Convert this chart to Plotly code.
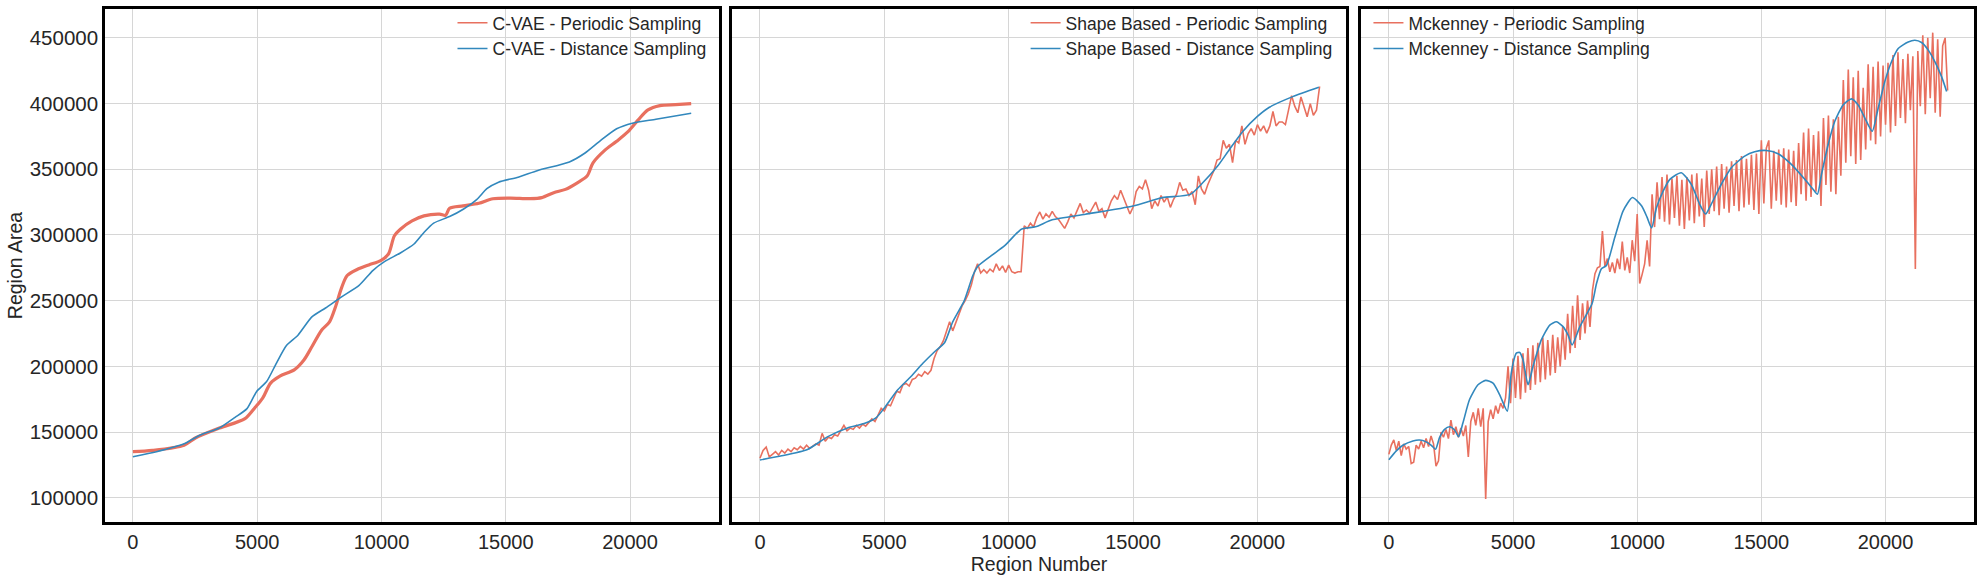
import plotly.graph_objects as go
from plotly.subplots import make_subplots

# region areas are written in thousands, scaled back up when plotted

# --- C-VAE ---
cvae_periodic_x = [0, 790, 2060, 2530, 3480, 4510, 4900, 5220, 5540, 5930, 6490, 6880, 7200, 7590,
                   7910, 8150, 8380, 8620, 9020, 9490, 9970, 10280, 10520, 10760, 11230, 11710, 12340,
                   12580, 12740, 13290, 13920, 14480, 15190, 15980, 16450, 16930, 17400, 17880, 18270,
                   18510, 18980, 19460, 19930, 20330, 20720, 21200, 21830, 22460]
cvae_periodic_k = [135, 136, 140, 145.6, 153, 160.2, 168.3, 175.8, 187.2, 192.7, 197.3, 204.8, 214.9, 227.5,
                   233.8, 245.2, 259, 269.1, 273.7, 277.2, 280.5, 285.5, 299.4, 304.4, 310.7, 314.5, 315.8,
                   315, 320.3, 322.1, 324.1, 327.6, 328.1, 327.6, 328.4, 332.2, 334.7, 339.7, 344.8,
                   354.9, 364.4, 371.3, 378.8, 387.6, 395.2, 398.5, 399.2, 400]

cvae_distance_x = [0, 950, 2060, 2690, 3480, 4110, 4590, 4980, 5380, 5770, 6170, 6640, 7200, 7750, 8380,
                   9100, 9650, 10120, 10760, 11310, 11710, 12100, 12740, 13290, 13840, 14240, 14710,
                   15500, 16290, 17560, 18190, 18820, 19460, 20090, 21040, 22460]
cvae_distance_k = [131.2, 135, 141, 147.6, 153.1, 161.2, 167.8, 180.9, 188.4, 202.3, 215.7, 223.7, 237.6,
                   244.4, 252.7, 261.6, 272.9, 279.7, 286.3, 293.1, 301.9, 309, 314, 319.6, 327.1, 335.2,
                   340.2, 344, 349.1, 355.6, 362.4, 372, 380.8, 385.1, 388.1, 392.7]

# --- Shape Based ---  (periodic: one sample every 125 regions)
shape_periodic_k = [
    130, 136, 138.5, 131, 133, 135, 132.5, 136, 134, 137, 135, 138, 136.5, 139, 137, 140, 137.5, 139, 141, 140,
    149, 143, 146, 145, 148, 147, 151, 155, 151, 153, 152, 155, 153, 156, 154.5, 157, 160, 158, 163, 168,
    166, 171, 170, 176, 181, 180, 186, 187, 185, 190, 191, 194, 192.5, 196, 194, 197, 206, 212, 215, 219.5,
    226, 234, 227, 233, 240, 246, 250, 255, 262, 272, 278, 271, 273.5, 271, 274, 272, 278, 273, 276.5, 271.5,
    277, 272, 271, 272, 272, 307, 305, 309, 306, 313, 317.5, 312, 316, 313.5, 318, 314, 312, 308, 305, 310,
    316, 313, 318, 324, 317, 319, 316.5, 321, 325, 318, 320, 313, 319, 326, 330, 327, 334, 328, 322, 316,
    321, 333, 337, 335, 342, 334, 320, 326, 322, 330, 325, 329, 321, 327, 331, 340, 334, 335, 330, 333,
    323, 345, 335, 331, 338, 343, 349, 357, 358, 372, 366, 369, 355, 372, 370, 383, 369, 377, 381, 376,
    384, 379, 383, 377.5, 383, 394, 383, 386, 386, 384, 395, 406, 398, 393, 405, 398, 390, 400, 391, 395,
    413]
shape_periodic_x = [125 * i for i in range(len(shape_periodic_k))]

shape_distance_x = [0, 830, 1910, 2710, 3520, 4190, 4690, 5000, 5540, 6070, 6550, 7020, 7420, 7750, 8220,
                    8560, 8760, 9300, 9840, 10510, 11075, 11750, 13090, 15000, 16180, 17300, 17800, 18400,
                    18870, 19410, 20000, 20480, 21420, 22470]
shape_distance_k = [128.7, 131.7, 136.7, 146.3, 153.1, 156.4, 161.2, 168.3, 182.1, 192.2, 202.3, 211.1,
                    217.9, 233.8, 250.2, 269.1, 276.2, 284.3, 291.8, 304.4, 306.2, 311.5, 315.8, 322.1,
                    328.4, 330.9, 339.7, 352.4, 364.9, 378.8, 390.2, 397.2, 405.3, 412.4]

# --- Mckenney ---  (periodic: one sample every 100 regions)
mck_periodic_k = [
    133, 140, 144, 136, 143, 132, 141, 137, 139, 126, 127, 140, 137, 143, 138, 145, 139, 147, 141, 124,
    128, 150, 146, 152, 145, 159, 148, 154, 146, 153, 147, 155, 131, 158, 165, 155, 168, 154, 168, 99,
    158, 167, 160, 170, 164, 172, 168, 176, 200, 172, 206, 176, 208, 175, 210, 180, 214, 182, 216, 186,
    218, 188, 222, 190, 220, 193, 224, 195, 222, 200, 230, 205, 240, 210, 246, 214, 254, 220, 248, 225,
    250, 230, 258, 270.5, 275, 276, 303, 276, 282, 272, 279, 271, 282, 274, 295, 273, 283, 271, 296, 280,
    316, 263, 270, 278, 296, 276, 331, 306, 340, 312, 344, 310, 346, 308, 343, 313, 345, 307, 342, 304.5,
    344, 311, 346, 309, 347, 314, 343, 306, 349, 316, 350, 318, 352, 315, 354, 320, 352, 317, 356, 322,
    357, 318, 360, 321, 358, 323, 361, 319, 362, 316, 372, 324, 366, 372, 320, 364, 326, 365, 323, 366,
    321, 365, 325, 364, 322, 370, 331, 378, 326, 381, 329, 376, 333, 379, 322, 389, 338, 391, 333, 388,
    331, 390, 345, 418, 355, 426, 360, 420, 354, 425, 357, 412, 365, 430, 372, 428, 369, 432, 375, 429,
    384, 431, 378, 437, 383, 439, 389, 434, 385, 438, 395, 436, 274, 440, 398, 452, 392, 450, 404, 454,
    393, 449, 390, 444, 450, 410]
mck_periodic_x = [100 * i for i in range(len(mck_periodic_k))]

mck_distance_x = [0, 300, 565, 970, 1240, 1505, 1710, 1880, 2040, 2245, 2445, 2650, 2810, 2985, 3250, 3590,
                  3900, 4195, 4460, 4770, 4930, 5135, 5270, 5400, 5605, 5805, 6140, 6480, 6750, 7015, 7215,
                  7380, 7690, 8185, 8360, 8560, 8760, 9100, 9435, 9810, 10175, 10400, 10580, 10780, 11050,
                  11315, 11774, 12177, 12513, 12755, 12984, 13387, 13790, 14328, 14730, 15200, 15672,
                  16210, 16747, 17083, 17257, 17420, 17688, 17957, 18293, 18628, 18897, 19166, 19462,
                  19704, 19970, 20240, 20510, 20913, 21182, 21450, 21720, 21990, 22257, 22460]
mck_distance_k = [128.8, 135.6, 139.9, 143.2, 143.9, 142.5, 139.9, 136.9, 145.7, 152, 154, 151.5, 146.4,
                  157, 174.7, 186, 189.3, 187.2, 178.5, 165.9, 194.9, 210, 210.5, 205, 186, 200, 220.1,
                  231.4, 233.9, 230.2, 223.9, 216.3, 230.2, 247.8, 262.9, 274.3, 276.8, 298.2, 318.4,
                  328.5, 322.2, 313.4, 305.3, 320.9, 333.5, 342.3, 347.4, 338.6, 323.5, 315.9, 323.5,
                  338.6, 351.2, 360, 363.3, 364.3, 361.8, 353.7, 342.4, 334.8, 331, 346, 368.7, 386.5,
                  399, 403.6, 399, 389, 378.9, 396.6, 416.7, 431.8, 441.9, 446.9, 448.2, 446.5, 440.7,
                  431.8, 420.5, 409.2]

xticks = [0, 5000, 10000, 15000, 20000]
yticks = [100000, 150000, 200000, 250000, 300000, 350000, 400000, 450000]

RED = '#e8705f'
BLUE = '#3288bd'
FONT = 'Liberation Sans, Arial, sans-serif'
TXT = '#262626'


def k(vals):
    return [v * 1000 for v in vals]


# name, periodic x/y, distance x/y, periodic line width, spline for periodic?, legend id
panels = [
    ('C-VAE', cvae_periodic_x, cvae_periodic_k, cvae_distance_x, cvae_distance_k, 3.2, True, 'legend'),
    ('Shape Based', shape_periodic_x, shape_periodic_k, shape_distance_x, shape_distance_k, 1.6, False, 'legend2'),
    ('Mckenney', mck_periodic_x, mck_periodic_k, mck_distance_x, mck_distance_k, 1.6, False, 'legend3'),
]

fig = make_subplots(rows=1, cols=3, shared_yaxes=True, horizontal_spacing=0.01)

for i, (name, px_, py_, dx_, dy_, w, smooth, leg) in enumerate(panels):
    col = i + 1
    # actual curves
    fig.add_trace(go.Scatter(x=px_, y=k(py_), mode='lines', showlegend=False,
                             line=dict(color=RED, width=w, shape='spline' if smooth else 'linear',
                                       smoothing=0.8)), row=1, col=col)
    fig.add_trace(go.Scatter(x=dx_, y=k(dy_), mode='lines', showlegend=False,
                             line=dict(color=BLUE, width=1.6, shape='spline', smoothing=0.6)), row=1, col=col)
    # legend entries (thin handles as in the original)
    fig.add_trace(go.Scatter(x=[None], y=[None], mode='lines', name=name + ' - Periodic Sampling',
                             line=dict(color=RED, width=1.6), legend=leg), row=1, col=col)
    fig.add_trace(go.Scatter(x=[None], y=[None], mode='lines', name=name + ' - Distance Sampling',
                             line=dict(color=BLUE, width=1.6), legend=leg), row=1, col=col)

domains = [[0.0, 0.3283], [0.3355, 0.6640], [0.6720, 1.0]]
for i in range(3):
    fig.update_xaxes(domain=domains[i], row=1, col=i + 1)

fig.update_xaxes(range=[-1122, 23562], tickvals=xticks, tickformat='d', showgrid=True,
                 gridcolor='#d6d6d6', gridwidth=1, automargin=False,
                 showline=True, linecolor='black', linewidth=2.5, mirror=True, zeroline=False,
                 tickfont=dict(size=20, color=TXT), ticklabelstandoff=0)
fig.update_yaxes(range=[81500, 472000], tickvals=yticks, tickformat='d', showgrid=True,
                 gridcolor='#d6d6d6', gridwidth=1, automargin=False,
                 showline=True, linecolor='black', linewidth=2.5, mirror=True, zeroline=False,
                 tickfont=dict(size=20.5, color=TXT), ticklabelstandoff=0)
fig.update_yaxes(title=dict(text='Region Area', font=dict(size=19.5, color=TXT), standoff=2), row=1, col=1)
fig.update_xaxes(title=dict(text='Region Number', font=dict(size=19.5, color=TXT), standoff=2), row=1, col=2)

leg_style = dict(bgcolor='rgba(0,0,0,0)', font=dict(size=17.5, color=TXT, family=FONT),
                 yanchor='top', y=1.008, tracegroupgap=0)
fig.update_layout(
    width=1980, height=580,
    margin=dict(l=105, r=6, t=5, b=58),
    paper_bgcolor='white', plot_bgcolor='white',
    font=dict(family=FONT, color=TXT),
    legend=dict(xanchor='right', x=0.3245, **leg_style),
    legend2=dict(xanchor='right', x=0.6595, **leg_style),
    legend3=dict(xanchor='left', x=0.676, **leg_style),
)

# the page's default body margin would push the figure 8px off the window
fig.write_html('out.html', config={'displayModeBar': False},
               post_script="document.body.style.margin='0';")
